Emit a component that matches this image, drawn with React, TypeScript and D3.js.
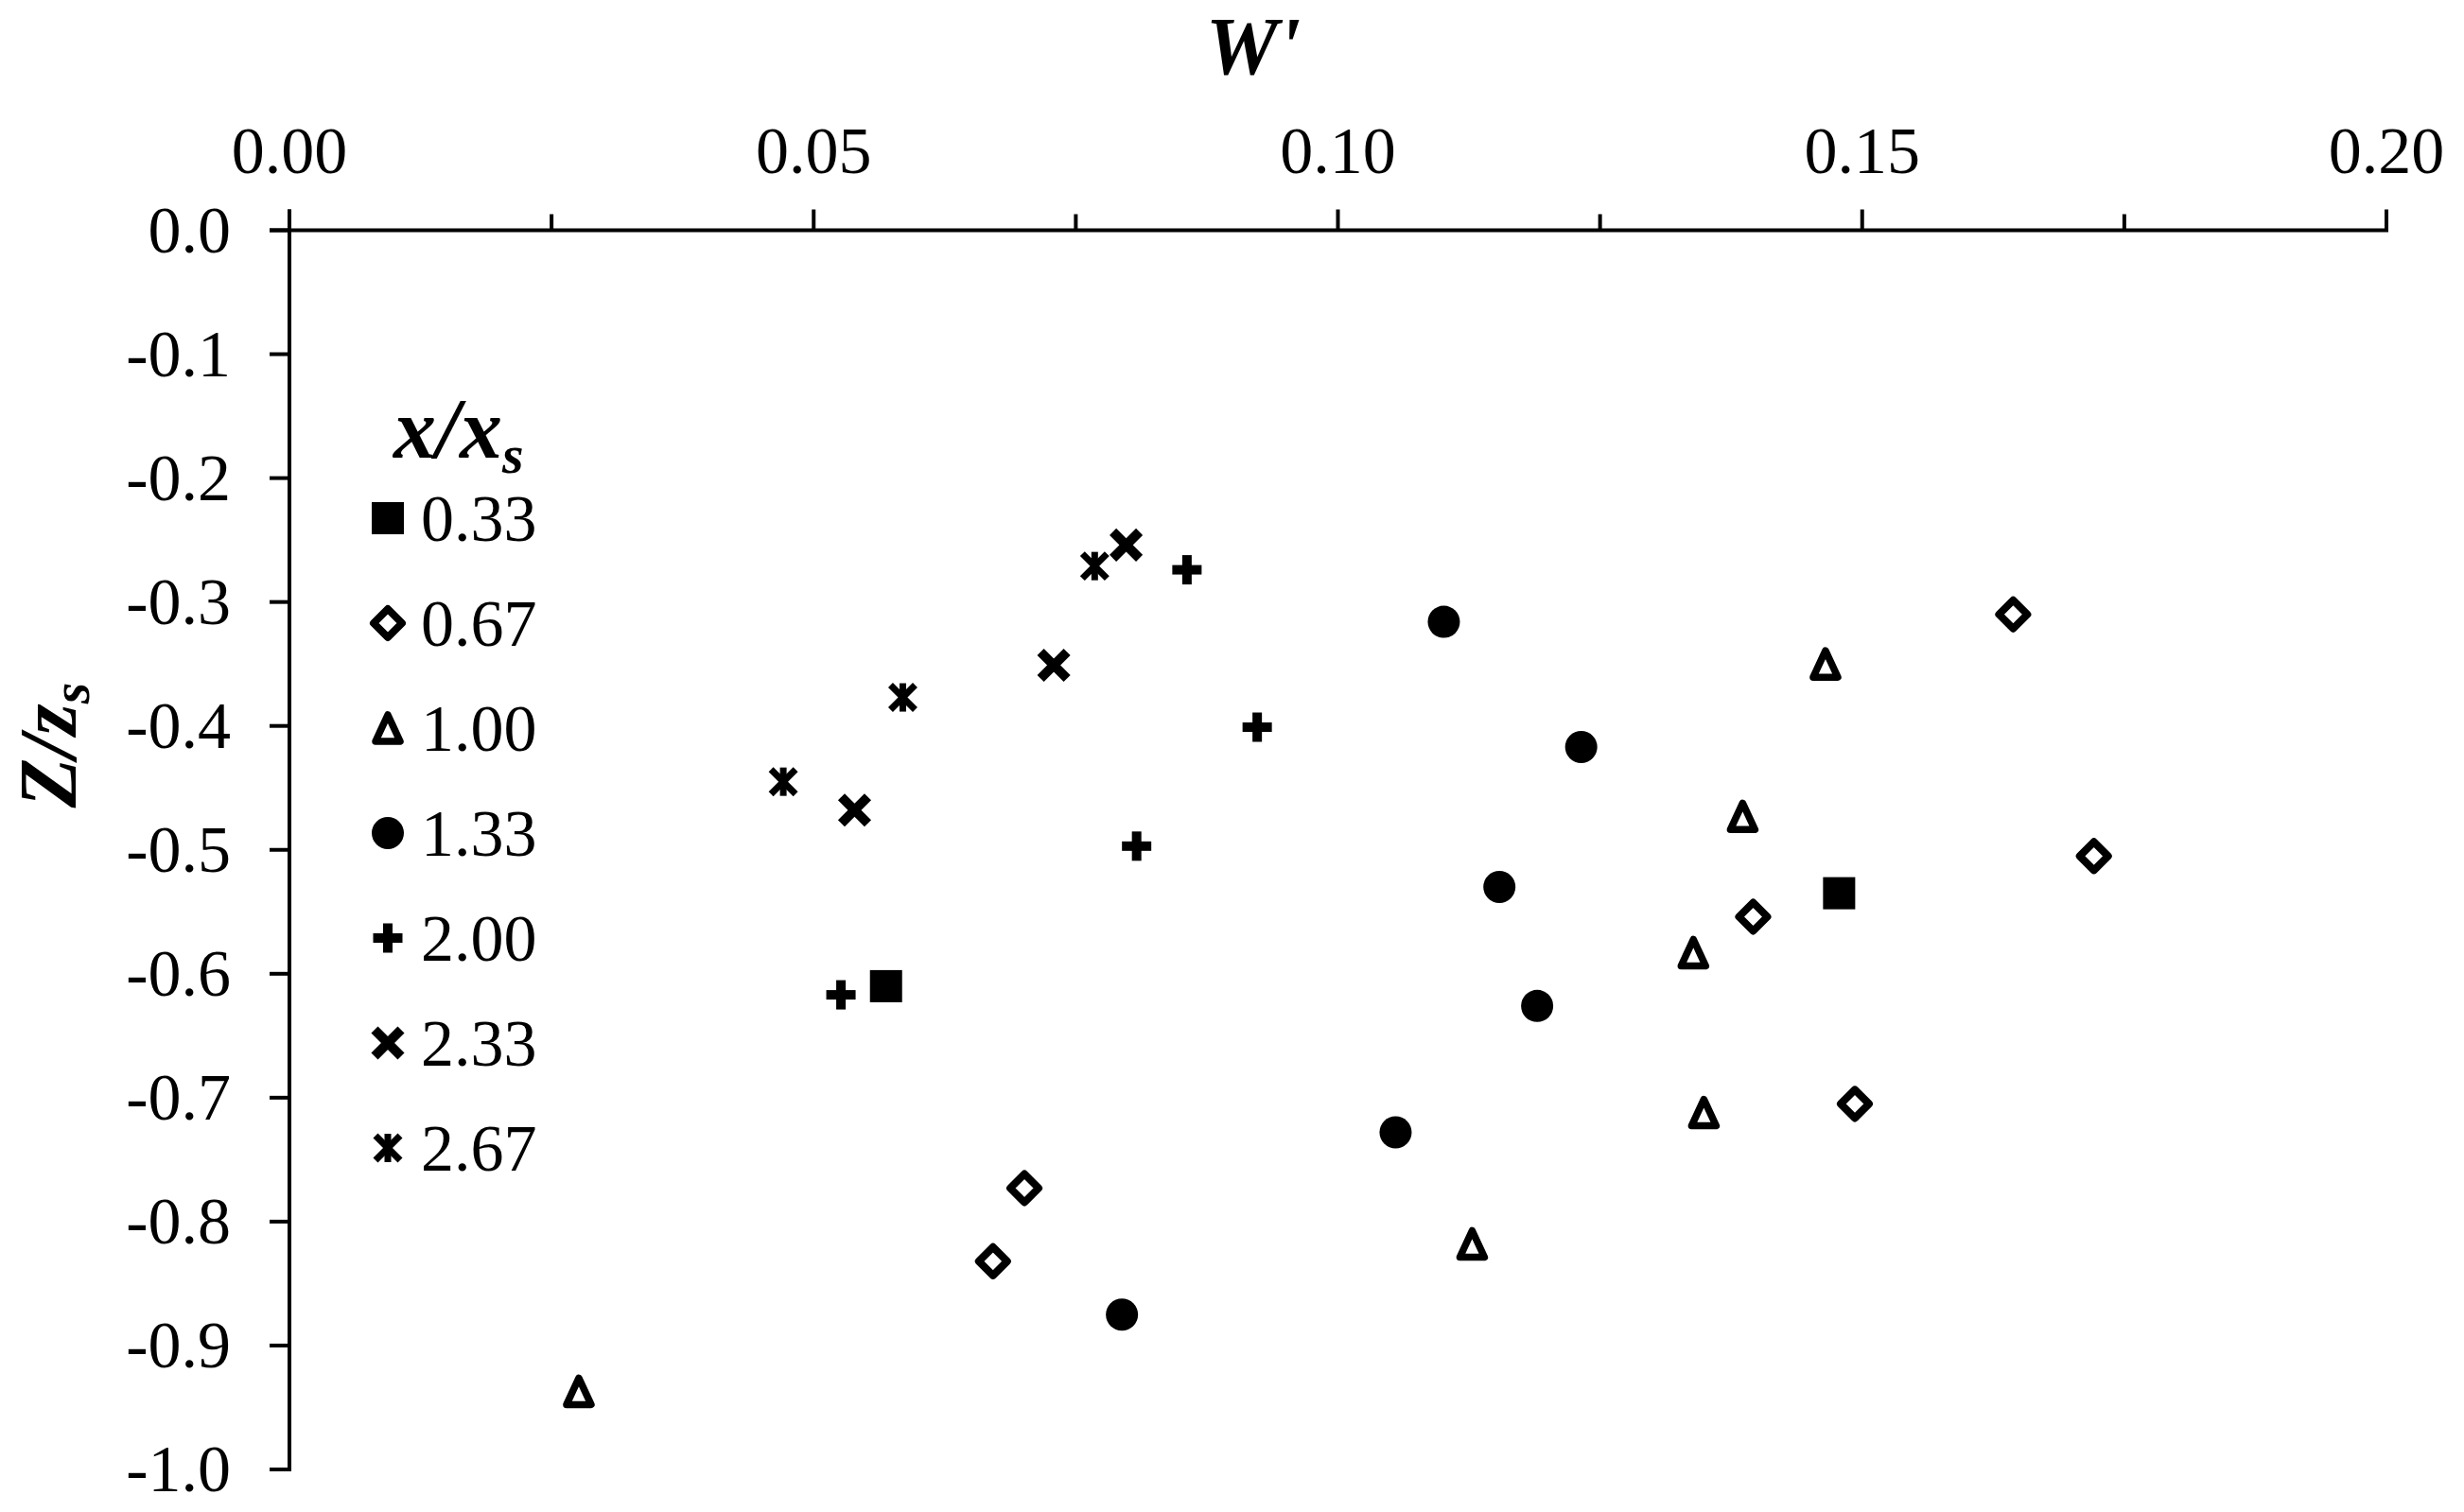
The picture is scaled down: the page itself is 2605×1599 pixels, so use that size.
import React from "react";
import * as d3 from "d3";

// W' (x) and Z/zs (y), one pair of arrays per x/xs group
const w033 = [0.0569, 0.1478];
const z033 = [-0.61, -0.535];
const w067 = [0.1644, 0.1721, 0.1396, 0.1493, 0.0701, 0.0671];
const z067 = [-0.31, -0.505, -0.554, -0.705, -0.773, -0.832];
const w100 = [0.1465, 0.1386, 0.1339, 0.1349, 0.1128, 0.0276];
const z100 = [-0.35, -0.473, -0.583, -0.712, -0.818, -0.937];
const w133 = [0.1101, 0.1232, 0.1154, 0.119, 0.1055, 0.0794];
const z133 = [-0.316, -0.417, -0.53, -0.626, -0.728, -0.875];
const w200 = [0.0856, 0.0923, 0.0808, 0.0526];
const z200 = [-0.274, -0.401, -0.497, -0.617];
const w233 = [0.0798, 0.0729, 0.0539];
const z233 = [-0.254, -0.351, -0.468];
const w267 = [0.0768, 0.0585, 0.0471];
const z267 = [-0.271, -0.377, -0.445];

const seriesLabels = ["0.33", "0.67", "1.00", "1.33", "2.00", "2.33", "2.67"];
const seriesMarkers = ["square", "diamond", "triangle", "circle", "plus", "cross", "star"];
const seriesW = [w033, w067, w100, w133, w200, w233, w267];
const seriesZ = [z033, z067, z100, z133, z200, z233, z267];

const xTicks = [0, 0.05, 0.1, 0.15, 0.2];
const xTickLabels = ["0.00", "0.05", "0.10", "0.15", "0.20"];
const xMinorTicks = [0.025, 0.075, 0.125, 0.175];
const yTicks = [0, -0.1, -0.2, -0.3, -0.4, -0.5, -0.6, -0.7, -0.8, -0.9, -1.0];
const yTickLabels = ["0.0", "-0.1", "-0.2", "-0.3", "-0.4", "-0.5", "-0.6", "-0.7", "-0.8", "-0.9", "-1.0"];

const W = 2605;
const H = 1599;
const FONT = "'Liberation Serif', 'Times New Roman', serif";

function Marker({ type, x, y }) {
  const t = `translate(${x},${y})`;
  switch (type) {
    case "square":
      return <rect x={x - 17} y={y - 17} width={34} height={34} fill="#000" />;
    case "diamond":
      return (
        <path transform={t} d="M0,-15L15,0L0,15L-15,0Z" fill="#fff" stroke="#000"
          strokeWidth={8} strokeLinejoin="round" />
      );
    case "triangle":
      return (
        <path transform={t} d="M0,-14L13,14L-13,14Z" fill="#fff" stroke="#000"
          strokeWidth={7.5} strokeLinejoin="round" />
      );
    case "circle":
      return <circle cx={x} cy={y} r={17} fill="#000" />;
    case "plus":
      return (
        <g transform={t} fill="#000">
          <rect x={-15.5} y={-5} width={31} height={10} />
          <rect x={-5} y={-15.5} width={10} height={31} />
        </g>
      );
    case "cross":
      return (
        <g transform={t} stroke="#000" strokeWidth={10}>
          <line x1={-14} y1={-14} x2={14} y2={14} />
          <line x1={-14} y1={14} x2={14} y2={-14} />
        </g>
      );
    default:
      return (
        <g transform={t} stroke="#000" strokeWidth={7}>
          <line x1={-13} y1={-13} x2={13} y2={13} />
          <line x1={-13} y1={13} x2={13} y2={-13} />
          <line x1={0} y1={-15} x2={0} y2={15} />
        </g>
      );
  }
}

export default function App() {
  const xScale = d3.scaleLinear().domain([0, 0.2]).range([306, 2523]);
  const yScale = d3.scaleLinear().domain([0, -1]).range([243.5, 1554]);
  const x0 = xScale(0);
  const y0 = yScale(0);

  const legendX = 410;
  const legendY0 = 548;
  const legendStep = 111;

  return (
    <svg width={W} height={H} style={{ position: "absolute", left: 0, top: 0, background: "#fff" }}
      fontFamily={FONT}>
      <rect width={W} height={H} fill="#fff" />

      {/* axes */}
      <line x1={285} y1={y0} x2={xScale(0.2) + 2} y2={y0} stroke="#000" strokeWidth={4} />
      <line x1={x0} y1={y0 - 22} x2={x0} y2={yScale(-1) + 2} stroke="#000" strokeWidth={4} />
      {xTicks.map((v) => (
        <line key={"xt" + v} x1={xScale(v)} x2={xScale(v)} y1={y0} y2={y0 - 22} stroke="#000" strokeWidth={4} />
      ))}
      {xMinorTicks.map((v) => (
        <line key={"xm" + v} x1={xScale(v)} x2={xScale(v)} y1={y0} y2={y0 - 17} stroke="#000" strokeWidth={4} />
      ))}
      {yTicks.map((v) => (
        <line key={"yt" + v} x1={285} x2={x0} y1={yScale(v)} y2={yScale(v)} stroke="#000" strokeWidth={4} />
      ))}
      {xTicks.map((v, i) => (
        <text key={"xl" + v} x={xScale(v)} y={183} textAnchor="middle" fontSize={70}>
          {xTickLabels[i]}
        </text>
      ))}
      {yTicks.map((v, i) => (
        <text key={"yl" + v} x={244} y={yScale(v) + 23} textAnchor="end" fontSize={70}>
          {yTickLabels[i]}
        </text>
      ))}

      {/* axis titles */}
      <text x={1325} y={78} textAnchor="middle" fontSize={86} fontWeight="bold" fontStyle="italic">
        W'
      </text>
      <text transform="translate(80,788) rotate(-90)" textAnchor="middle" fontSize={86}
        fontWeight="bold" fontStyle="italic">
        Z/z<tspan fontSize={58} dy={14}>s</tspan>
      </text>

      {/* points */}
      {seriesW.map((ws, si) =>
        ws.map((w, i) => (
          <Marker key={si + "-" + i} type={seriesMarkers[si]} x={xScale(w)} y={yScale(seriesZ[si][i])} />
        ))
      )}

      {/* legend */}
      <text x={416} y={484} fontSize={90} fontWeight="bold" fontStyle="italic">
        x/x<tspan fontSize={58} dy={16}>s</tspan>
      </text>
      {seriesLabels.map((lab, i) => (
        <g key={"lg" + lab}>
          <Marker type={seriesMarkers[i]} x={legendX} y={legendY0 + i * legendStep} />
          <text x={445} y={legendY0 + i * legendStep + 24} fontSize={70}>
            {lab}
          </text>
        </g>
      ))}
    </svg>
  );
}
